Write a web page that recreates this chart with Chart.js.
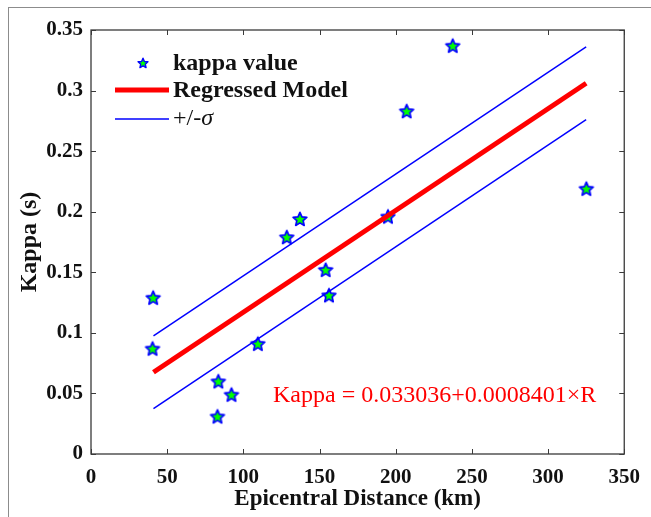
<!DOCTYPE html>
<html>
<head>
<meta charset="utf-8">
<script src="https://cdn.jsdelivr.net/npm/chart.js@4.4.1/dist/chart.umd.min.js"></script>
<style>
  html, body { margin: 0; padding: 0; background: #fff; }
  #wrap { position: relative; width: 651px; height: 517px; overflow: hidden; }
  #frame { position: absolute; left: 8px; top: 7px; right: -2px; bottom: -2px; border-left: 1px solid #8c8c8c; border-top: 1px solid #8c8c8c; }
  #kappaChart { position: absolute; left: 0; top: 0; }
</style>
</head>
<body>
<div id="wrap">
  <div id="frame"></div>
  <canvas id="kappaChart" width="651" height="517"></canvas>
</div>
<script>
// observed kappa at each station
const distances = [40.8, 40.4, 83.6, 83.0, 92.2, 109.5, 128.5, 137.1, 154.0, 156.2, 194.9, 207.2, 237.4, 325.1];
const kappas = [0.129, 0.087, 0.060, 0.031, 0.049, 0.091, 0.179, 0.194, 0.152, 0.131, 0.196, 0.283, 0.337, 0.219];

// regression: kappa = a + b * R, plus/minus one sigma
const modelCoef = [0.033036, 0.0008401];
const sigma = 0.030;
const modelRange = [41, 325];

const xTicks = [0, 50, 100, 150, 200, 250, 300, 350];
const yTicks = [0, 0.05, 0.1, 0.15, 0.2, 0.25, 0.3, 0.35];

const serif = "'Liberation Serif', 'Times New Roman', serif";

function model(r, shift) {
  return modelCoef[0] + modelCoef[1] * r + shift;
}

function modelLine(shift) {
  return modelRange.map(r => ({ x: r, y: model(r, shift) }));
}

// five-pointed star marker, green fill with blue edge
function makeStar(r, lw) {
  const size = Math.ceil(r * 2 + lw * 2 + 2);
  const c = document.createElement('canvas');
  c.width = size;
  c.height = size;
  const g = c.getContext('2d');
  const cx = size / 2, cy = size / 2 + r * 0.08;
  g.beginPath();
  for (let i = 0; i < 10; i++) {
    const rad = i % 2 ? r * 0.46 : r;
    const a = -Math.PI / 2 + i * Math.PI / 5;
    const px = cx + rad * Math.cos(a);
    const py = cy + rad * Math.sin(a);
    if (i === 0) g.moveTo(px, py); else g.lineTo(px, py);
  }
  g.closePath();
  g.fillStyle = '#00ff00';
  g.fill();
  g.lineWidth = lw;
  g.lineJoin = 'round';
  g.strokeStyle = '#0000ff';
  g.stroke();
  return c;
}

const star = makeStar(7.2, 1.7);
const legendStar = makeStar(5.2, 1.4);

const boxPlugin = {
  id: 'matlabBox',
  afterDraw(chart) {
    const ctx = chart.ctx;
    const a = chart.chartArea;
    const xs = chart.scales.x, ys = chart.scales.y;
    ctx.save();
    ctx.strokeStyle = '#3a3a3a';
    ctx.lineWidth = 1.3;
    ctx.strokeRect(a.left, a.top, a.right - a.left, a.bottom - a.top);

    // tick marks pointing inward on all four sides
    ctx.beginPath();
    xTicks.forEach(v => {
      const px = Math.round(xs.getPixelForValue(v)) + 0.5;
      ctx.moveTo(px, a.bottom); ctx.lineTo(px, a.bottom - 5);
      ctx.moveTo(px, a.top); ctx.lineTo(px, a.top + 5);
    });
    yTicks.forEach(v => {
      const py = Math.round(ys.getPixelForValue(v)) + 0.5;
      ctx.moveTo(a.left, py); ctx.lineTo(a.left + 5, py);
      ctx.moveTo(a.right, py); ctx.lineTo(a.right - 5, py);
    });
    ctx.lineWidth = 1;
    ctx.stroke();

    // legend
    ctx.font = 'bold 24px ' + serif;
    ctx.fillStyle = '#111';
    ctx.textBaseline = 'middle';
    ctx.textAlign = 'left';
    ctx.drawImage(legendStar, 143 - legendStar.width / 2, 63 - legendStar.height / 2);
    ctx.fillText('kappa value', 173, 64);

    ctx.beginPath();
    ctx.strokeStyle = '#ff0000';
    ctx.lineWidth = 5;
    ctx.moveTo(115, 90); ctx.lineTo(169, 90);
    ctx.stroke();
    ctx.fillText('Regressed Model', 173, 91);

    ctx.beginPath();
    ctx.strokeStyle = '#0000ff';
    ctx.lineWidth = 1.5;
    ctx.moveTo(115, 119); ctx.lineTo(169, 119);
    ctx.stroke();
    ctx.font = '24px ' + serif;
    ctx.fillText('+/-', 173, 119);
    const w = ctx.measureText('+/-').width;
    ctx.font = 'italic 24px ' + serif;
    ctx.fillText('\u03c3', 173 + w, 119);

    // regression equation
    ctx.font = '24px ' + serif;
    ctx.fillStyle = '#ff0000';
    ctx.textBaseline = 'alphabetic';
    ctx.fillText('Kappa = ' + modelCoef[0] + '+' + modelCoef[1] + '\u00d7R', 273, 402);
    ctx.restore();
  }
};

new Chart(document.getElementById('kappaChart').getContext('2d'), {
  type: 'scatter',
  data: {
    datasets: [
      {
        type: 'line',
        label: 'Regressed Model',
        data: modelLine(0),
        borderColor: '#ff0000',
        borderWidth: 5,
        pointRadius: 0,
        fill: false,
        order: 0
      },
      {
        type: 'line',
        label: '+/-\u03c3',
        data: modelLine(sigma),
        borderColor: '#0000ff',
        borderWidth: 1.5,
        pointRadius: 0,
        fill: false,
        order: 0
      },
      {
        type: 'line',
        label: '-\u03c3',
        data: modelLine(-sigma),
        borderColor: '#0000ff',
        borderWidth: 1.5,
        pointRadius: 0,
        fill: false,
        order: 0
      },
      {
        label: 'kappa value',
        data: distances.map((d, i) => ({ x: d, y: kappas[i] })),
        pointStyle: star,
        pointRadius: 7,
        order: 1
      }
    ]
  },
  options: {
    responsive: false,
    animation: false,
    layout: { padding: { left: 0, top: 30, right: 20, bottom: 0 } },
    scales: {
      x: {
        type: 'linear',
        min: 0,
        max: 350,
        afterFit(scale) { scale.height = 63; },
        afterBuildTicks(scale) { scale.ticks = xTicks.map(v => ({ value: v })); },
        grid: { display: false, drawTicks: false },
        border: { display: false },
        ticks: {
          padding: 11,
          color: '#111',
          font: { family: serif, size: 21, weight: 'bold' },
          maxRotation: 0
        },
        title: {
          display: true,
          text: 'Epicentral Distance (km)',
          color: '#111',
          font: { family: serif, size: 23, weight: 'bold' },
          padding: { top: 0, bottom: 4 }
        }
      },
      y: {
        type: 'linear',
        min: 0,
        max: 0.35,
        afterFit(scale) { scale.width = 91; },
        afterBuildTicks(scale) { scale.ticks = yTicks.map(v => ({ value: v })); },
        grid: { display: false, drawTicks: false },
        border: { display: false },
        ticks: {
          padding: 8,
          color: '#111',
          font: { family: serif, size: 21, weight: 'bold' },
          callback: v => String(Math.round(v * 100) / 100)
        },
        title: {
          display: true,
          text: 'Kappa (s)',
          color: '#111',
          font: { family: serif, size: 24, weight: 'bold' },
          padding: { top: 15, bottom: 0 }
        }
      }
    },
    plugins: {
      legend: { display: false },
      tooltip: { enabled: false }
    }
  },
  plugins: [boxPlugin]
});
</script>
</body>
</html>
